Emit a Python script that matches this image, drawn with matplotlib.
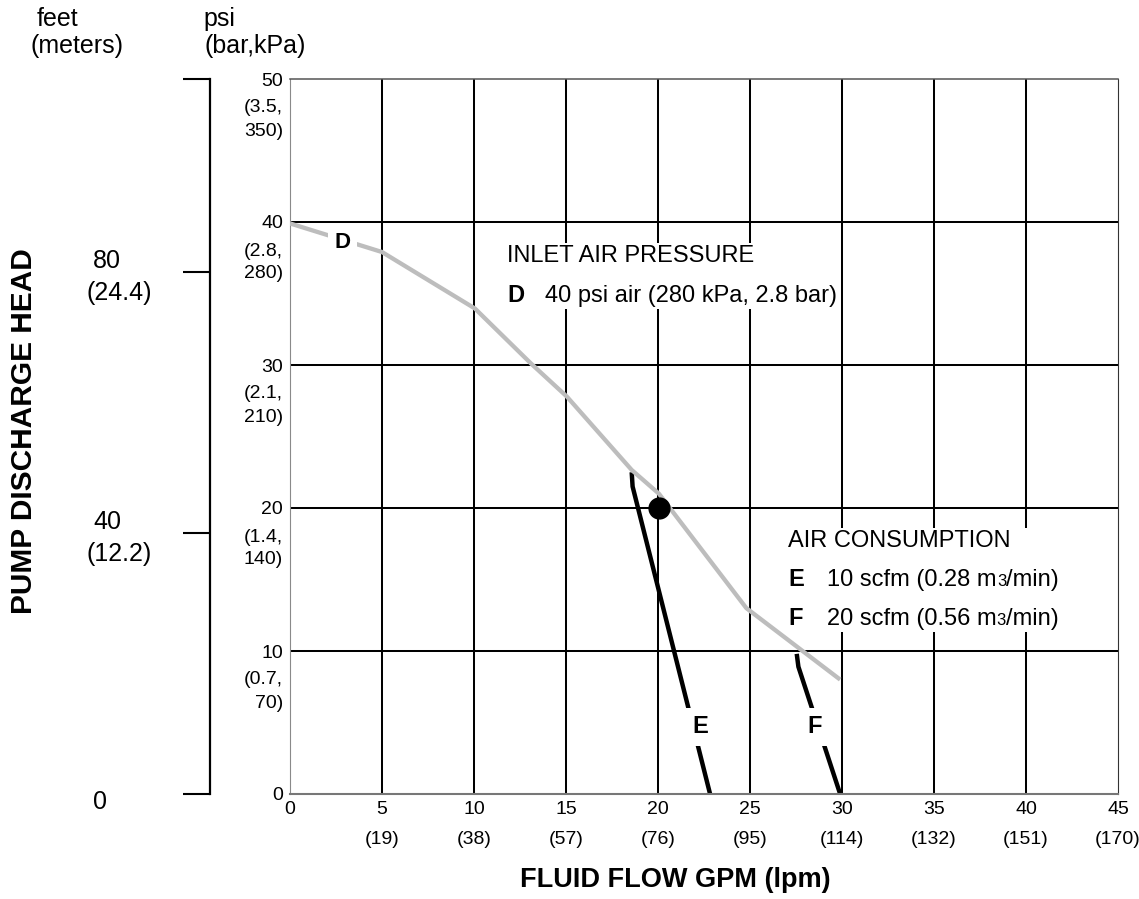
import matplotlib
matplotlib.use('Agg')
import matplotlib.pyplot as plt
from matplotlib.offsetbox import TextArea, HPacker, VPacker, AnnotationBbox

plt.rcParams['font.family'] = ['Liberation Sans', 'DejaVu Sans']

# ---------------- data ----------------
flow_ticks = [0, 5, 10, 15, 20, 25, 30, 35, 40, 45]
flow_lpm = ['', '(19)', '(38)', '(57)', '(76)', '(95)', '(114)', '(132)', '(151)', '(170)']
psi_ticks = [0, 10, 20, 30, 40, 50]
psi_sub1 = ['', '(0.7,', '(1.4,', '(2.1,', '(2.8,', '(3.5,']
psi_sub2 = ['', '70)', '140)', '210)', '280)', '350)']
feet_ticks = [0, 40, 80]
meters_labels = ['', '(12.2)', '(24.4)']
FT_PER_PSI = 80 / 36.5  # scale of the feet bracket on this chart

curve_D_flow = [0, 5.0, 10.05, 13.1, 15.04, 18.57, 20.05, 24.8, 29.9]
curve_D_psi = [39.9, 37.9, 33.95, 30.1, 27.8, 22.66, 21.0, 13.0, 8.0]
line_E_flow = [18.57, 18.62, 22.83]
line_E_psi = [22.5, 21.5, 0]
line_F_flow = [27.54, 27.63, 29.9]
line_F_psi = [9.8, 8.9, 0]
op_point_flow = [20.05]
op_point_psi = [20.0]

# ---------------- figure ----------------
W, H = 1139, 899
fig = plt.figure(figsize=(W / 100, H / 100), dpi=100)
ax = fig.add_axes([290 / W, 1 - 794 / H, 828 / W, 715 / H])
ax.set_xlim(0, 45)
ax.set_ylim(0, 50)

PX = 0.72  # points per pixel

ax.set_xticks(flow_ticks)
ax.set_xticklabels([str(v) for v in flow_ticks], fontsize=14)
ax.set_yticks(psi_ticks)
ax.set_yticklabels([str(v) for v in psi_ticks], fontsize=14)
ax.tick_params(axis='both', length=0)
ax.tick_params(axis='x', pad=5)
ax.tick_params(axis='y', pad=5)

ax.set_axisbelow(True)
ax.grid(True, color='black', linewidth=1.45)
xg = ax.get_xgridlines()
yg = ax.get_ygridlines()
xg[0].set_visible(False); xg[-1].set_visible(False)
yg[0].set_visible(False); yg[-1].set_visible(False)

ax.spines['left'].set_color('#8a8a8a'); ax.spines['left'].set_linewidth(0.8)
ax.spines['bottom'].set_color('#777777'); ax.spines['bottom'].set_linewidth(1.5)
ax.spines['top'].set_color('#555555'); ax.spines['top'].set_linewidth(1.1)
ax.spines['right'].set_color('#333333'); ax.spines['right'].set_linewidth(0.8)

# second tick rows
for v, s in zip(flow_ticks, flow_lpm):
    if s:
        ax.annotate(s, xy=(v, 0), xycoords=ax.get_xaxis_transform(),
                    xytext=(0, -45 * PX), textcoords='offset points',
                    ha='center', va='center', fontsize=14)
for v, s1, s2 in zip(psi_ticks, psi_sub1, psi_sub2):
    if s1:
        ax.annotate(s1, xy=(0, v), xycoords=ax.get_yaxis_transform(),
                    xytext=(-7 * PX, -29 * PX), textcoords='offset points',
                    ha='right', va='center', fontsize=14)
        ax.annotate(s2, xy=(0, v), xycoords=ax.get_yaxis_transform(),
                    xytext=(-7 * PX, -52 * PX), textcoords='offset points',
                    ha='right', va='center', fontsize=14)

# feet bracket axis
sec = ax.secondary_yaxis((210 - 290) / 828,
                         functions=(lambda p: p * FT_PER_PSI, lambda f: f / FT_PER_PSI))
sec.set_yticks(feet_ticks + [50 * FT_PER_PSI])
sec.tick_params(axis='y', length=19.5, width=1.5, direction='out', color='black',
                labelleft=False)
sec.spines['left'].set_linewidth(1.6)
sec.spines['left'].set_color('black')

for ft, m in zip(feet_ticks, meters_labels):
    p = ft / FT_PER_PSI
    dy = 11.5 if m else -8
    ax.annotate(str(ft), xy=(0, p), xycoords=ax.get_yaxis_transform(),
                xytext=(-197 * PX, dy * PX), textcoords='offset points',
                ha='left', va='center', fontsize=18, annotation_clip=False)
    if m:
        ax.annotate(m, xy=(0, p), xycoords=ax.get_yaxis_transform(),
                    xytext=(-203.5 * PX, -21 * PX), textcoords='offset points',
                    ha='left', va='center', fontsize=18, annotation_clip=False)

# headers and axis titles
fig.text(37 / W, 1 - 26 / H, 'feet', fontsize=18, ha='left', va='baseline')
fig.text(30 / W, 1 - 53 / H, '(meters)', fontsize=18, ha='left', va='baseline')
fig.text(203 / W, 1 - 26 / H, 'psi', fontsize=18, ha='left', va='baseline')
fig.text(205 / W, 1 - 53 / H, '(bar,kPa)', fontsize=18, ha='left', va='baseline')
fig.text(24 / W, 1 - 431 / H, 'PUMP DISCHARGE HEAD', rotation=90, fontsize=21.5,
         fontweight='bold', ha='center', va='center')
fig.text(675 / W, 1 - 880 / H, 'FLUID FLOW GPM (lpm)', fontsize=19.5,
         fontweight='bold', ha='center', va='center')

# ---------------- curves ----------------
ax.plot(curve_D_flow, curve_D_psi, color='#bdbdbd', linewidth=3.1,
        solid_capstyle='butt', zorder=2.6)
ax.plot(line_E_flow, line_E_psi, color='black', linewidth=3.2,
        solid_capstyle='butt', solid_joinstyle='miter', zorder=2.5, clip_on=False)
ax.plot(line_F_flow, line_F_psi, color='black', linewidth=3.2,
        solid_capstyle='butt', solid_joinstyle='miter', zorder=2.5, clip_on=False)
ax.plot(op_point_flow, op_point_psi, 'o', color='black', markersize=15, zorder=4)

lab = dict(fontweight='bold', ha='center', va='center', zorder=4.5,
           bbox=dict(boxstyle='square,pad=0.3', fc='white', ec='none'))
ax.text(2.84, 38.6, 'D', fontsize=16, **lab)
ax.text(22.28, 4.69, 'E', fontsize=17, **lab)
ax.text(28.53, 4.69, 'F', fontsize=17, **lab)

# ---------------- legend blocks ----------------
FS = 17
def ta(s, **kw):
    p = dict(fontsize=FS)
    p.update(kw)
    return TextArea(s, textprops=p)

blk1 = VPacker(children=[
    ta('INLET AIR PRESSURE'),
    HPacker(children=[ta('D', fontweight='bold'), ta('40 psi air (280 kPa, 2.8 bar)')],
            sep=15, align='baseline', pad=0),
], sep=12.5, align='left', pad=0)
ab1 = AnnotationBbox(blk1, (11.8, 38.4), xycoords='data', box_alignment=(0, 1),
                     frameon=True, pad=0.12,
                     bboxprops=dict(fc='white', ec='none'), zorder=5)
ax.add_artist(ab1)

def m3_row(letter, value, sep):
    return HPacker(children=[
        ta(letter, fontweight='bold'),
        HPacker(children=[ta(value + ' m'), ta('3', fontsize=12), ta('/min)')],
                sep=0, align='baseline', pad=0),
    ], sep=sep, align='baseline', pad=0)

blk2 = VPacker(children=[
    ta('AIR CONSUMPTION'),
    m3_row('E', '10 scfm (0.28', 17),
    m3_row('F', '20 scfm (0.56', 17.5),
], sep=11.5, align='left', pad=0)
ab2 = AnnotationBbox(blk2, (27.07, 18.46), xycoords='data', box_alignment=(0, 1),
                     frameon=True, pad=0.12,
                     bboxprops=dict(fc='white', ec='none'), zorder=5)
ax.add_artist(ab2)

fig.savefig('out.png', dpi=100)
